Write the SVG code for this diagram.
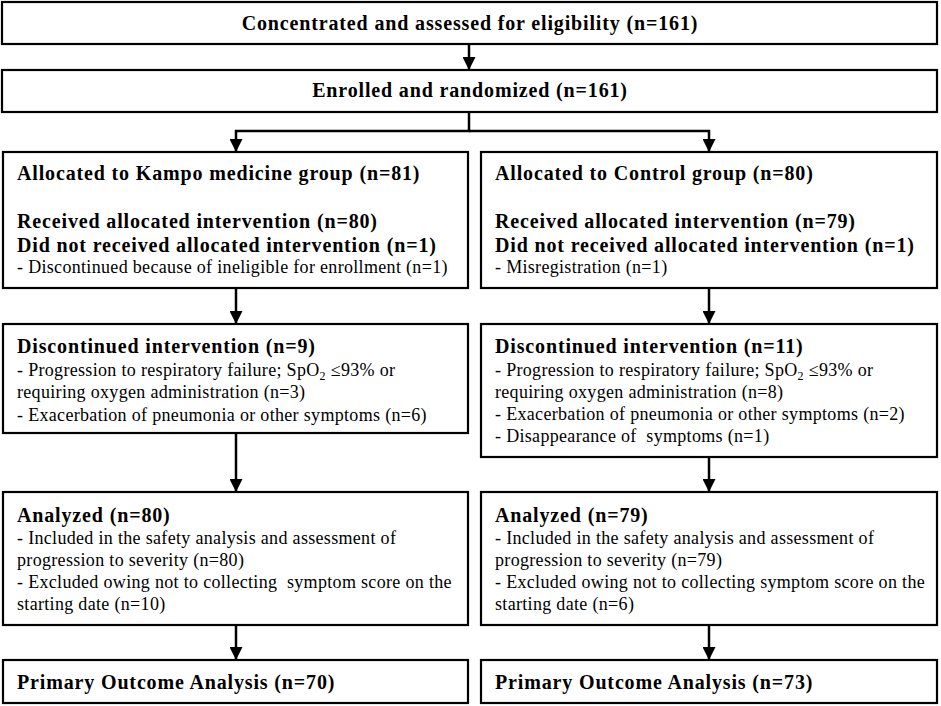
<svg xmlns="http://www.w3.org/2000/svg" width="941" height="706" viewBox="0 0 941 706">
<defs>
<marker id="ah" markerUnits="userSpaceOnUse" markerWidth="13" markerHeight="13" refX="13" refY="6.5" orient="auto">
<path d="M0,0 L13,6.5 L0,13 z" fill="#000"/>
</marker>
<style>
.box{fill:#fff;stroke:#000;stroke-width:2.2}
.con{fill:none;stroke:#000;stroke-width:2.5;marker-end:url(#ah)}
text{font-family:"Liberation Serif","Times New Roman",serif;fill:#000}
.h{font-size:20px;font-weight:bold;letter-spacing:0.85px}
.t{font-size:18px;letter-spacing:0.32px}
.c{text-anchor:middle}
.sub{font-size:12px}
</style>
</defs>
<rect width="941" height="706" fill="#fff"/>
<g id="connectors">
<path class="con" d="M469,44 V70"/>
<path class="con" d="M469,112 V131 H236 V152"/>
<path class="con" d="M469,131 H709 V152"/>
<path class="con" d="M236,288 V324"/>
<path class="con" d="M709,288 V324"/>
<path class="con" d="M236,433 V492"/>
<path class="con" d="M709,457 V492"/>
<path class="con" d="M236,625 V660"/>
<path class="con" d="M709,625 V660"/>
</g>
<g id="eligibility">
<rect class="box" x="2" y="2" width="935" height="42"/>
<text class="h c" x="470" y="30">Concentrated and assessed for eligibility (n=161)</text>
</g>
<g id="randomized">
<rect class="box" x="2" y="70" width="935" height="42"/>
<text class="h c" x="470" y="97">Enrolled and randomized (n=161)</text>
</g>
<g id="kampo-allocation">
<rect class="box" x="3" y="152" width="465" height="136"/>
<text class="h" x="17" y="180">Allocated to Kampo medicine group (n=81)</text>
<text class="h" x="17" y="228">Received allocated intervention (n=80)</text>
<text class="h" x="17" y="252">Did not received allocated intervention (n=1)</text>
<text class="t" x="17" y="273">- Discontinued because of ineligible for enrollment (n=1)</text>
</g>
<g id="control-allocation">
<rect class="box" x="481" y="152" width="456" height="136"/>
<text class="h" x="495" y="180">Allocated to Control group (n=80)</text>
<text class="h" x="495" y="228">Received allocated intervention (n=79)</text>
<text class="h" x="495" y="252">Did not received allocated intervention (n=1)</text>
<text class="t" x="495" y="273">- Misregistration (n=1)</text>
</g>
<g id="kampo-discontinued">
<rect class="box" x="3" y="324" width="465" height="109"/>
<text class="h" x="17" y="353">Discontinued intervention (n=9)</text>
<text class="t" x="17" y="376">- Progression to respiratory failure; SpO<tspan class="sub" dy="4">2</tspan><tspan dy="-4"> ≤93% or</tspan></text>
<text class="t" x="17" y="398">requiring oxygen administration (n=3)</text>
<text class="t" x="17" y="421">- Exacerbation of pneumonia or other symptoms (n=6)</text>
</g>
<g id="control-discontinued">
<rect class="box" x="481" y="324" width="456" height="133"/>
<text class="h" x="495" y="353">Discontinued intervention (n=11)</text>
<text class="t" x="495" y="376">- Progression to respiratory failure; SpO<tspan class="sub" dy="4">2</tspan><tspan dy="-4"> ≤93% or</tspan></text>
<text class="t" x="495" y="398">requiring oxygen administration (n=8)</text>
<text class="t" x="495" y="420">- Exacerbation of pneumonia or other symptoms (n=2)</text>
<text class="t" x="495" y="442">- Disappearance of&#160; symptoms (n=1)</text>
</g>
<g id="kampo-analyzed">
<rect class="box" x="3" y="492" width="465" height="133"/>
<text class="h" x="17" y="522">Analyzed (n=80)</text>
<text class="t" x="17" y="544">- Included in the safety analysis and assessment of</text>
<text class="t" x="17" y="566">progression to severity (n=80)</text>
<text class="t" x="17" y="588">- Excluded owing not to collecting&#160; symptom score on the</text>
<text class="t" x="17" y="610">starting date (n=10)</text>
</g>
<g id="control-analyzed">
<rect class="box" x="481" y="492" width="456" height="133"/>
<text class="h" x="495" y="522">Analyzed (n=79)</text>
<text class="t" x="495" y="544">- Included in the safety analysis and assessment of</text>
<text class="t" x="495" y="566">progression to severity (n=79)</text>
<text class="t" x="495" y="588">- Excluded owing not to collecting symptom score on the</text>
<text class="t" x="495" y="610">starting date (n=6)</text>
</g>
<g id="kampo-primary">
<rect class="box" x="3" y="660" width="465" height="43"/>
<text class="h" x="17" y="689">Primary Outcome Analysis (n=70)</text>
</g>
<g id="control-primary">
<rect class="box" x="481" y="660" width="456" height="43"/>
<text class="h" x="495" y="689">Primary Outcome Analysis (n=73)</text>
</g>
</svg>
